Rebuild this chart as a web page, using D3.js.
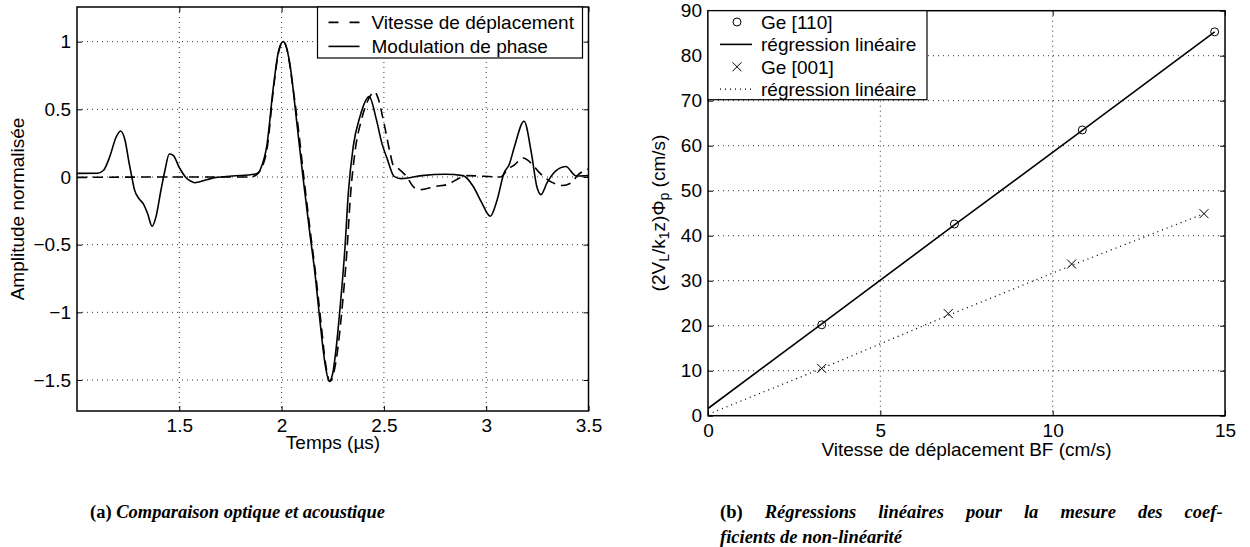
<!DOCTYPE html>
<html>
<head>
  <meta charset="utf-8">
  <title>Comparaison optique et acoustique</title>
  <style>
    body { margin: 0; background: #fff; }
    svg text { font-family: "Liberation Sans", Arial, sans-serif; fill: #000; }
    .caption { font-family: "Liberation Serif", "Times New Roman", serif; font-weight: bold; }
  </style>
</head>
<body>
  <svg id="chart" width="1250" height="547"></svg>

  <script src="https://cdnjs.cloudflare.com/ajax/libs/d3/7.8.5/d3.min.js"></script>
  <script>
    // ---- data, panel (a) ----
    const timeTicks = [1.5, 2, 2.5, 3, 3.5];
    const ampTicks = [-1.5, -1, -0.5, 0, 0.5, 1];

    // Vitesse de déplacement (dashed)  [temps µs, amplitude]
    const vitesse = [
      [1.0, -0.003], [1.5, 0.0], [1.85, 0.0], [1.88, 0.02], [1.9, 0.06], [1.93, 0.22],
      [1.96, 0.65], [1.985, 0.92], [2.008, 1.0], [2.03, 0.92], [2.05, 0.72], [2.08, 0.38],
      [2.11, -0.02], [2.14, -0.4], [2.165, -0.7], [2.19, -1.04], [2.215, -1.38], [2.236, -1.51],
      [2.256, -1.44], [2.272, -1.3], [2.295, -0.98], [2.32, -0.53], [2.336, -0.15], [2.36, 0.2],
      [2.39, 0.42], [2.42, 0.56], [2.455, 0.63], [2.472, 0.58], [2.5, 0.4], [2.53, 0.18],
      [2.545, 0.09], [2.567, 0.066], [2.61, 0.005], [2.65, -0.08], [2.685, -0.093], [2.75, -0.07],
      [2.81, -0.056], [2.87, -0.007], [2.91, 0.01], [3.07, 0.0], [3.104, 0.054], [3.138, 0.09],
      [3.18, 0.14], [3.221, 0.1], [3.255, 0.04], [3.289, -0.007], [3.322, -0.04], [3.372, -0.063],
      [3.414, -0.044], [3.45, 0.017], [3.5, 0.06]
    ];

    // Modulation de phase (solid)
    const modulation = [
      [1.0, 0.027], [1.1, 0.028], [1.13, 0.05], [1.16, 0.15], [1.19, 0.29], [1.213, 0.34],
      [1.235, 0.27], [1.255, 0.1], [1.268, 0.0], [1.28, -0.09], [1.303, -0.16], [1.325, -0.2],
      [1.345, -0.27], [1.367, -0.364], [1.385, -0.3], [1.41, -0.1], [1.43, 0.05], [1.451, 0.17],
      [1.47, 0.16], [1.5, 0.07], [1.53, 0.0], [1.555, -0.03], [1.576, -0.042], [1.6, -0.035],
      [1.657, -0.01], [1.758, 0.007], [1.867, 0.02], [1.885, 0.03], [1.9, 0.07], [1.927, 0.224],
      [1.96, 0.667], [1.985, 0.93], [2.008, 1.0], [2.04, 0.84], [2.073, 0.42], [2.106, -0.02],
      [2.138, -0.416], [2.163, -0.71], [2.187, -1.057], [2.212, -1.377], [2.233, -1.51], [2.25, -1.45],
      [2.26, -1.35], [2.285, -0.98], [2.31, -0.515], [2.326, -0.12], [2.35, 0.224], [2.383, 0.446],
      [2.428, 0.594], [2.464, 0.42], [2.49, 0.25], [2.517, 0.13], [2.55, 0.005], [2.584, -0.012],
      [2.685, 0.01], [2.8, 0.02], [2.886, 0.01], [2.936, -0.068], [2.978, -0.19], [3.02, -0.29],
      [3.054, -0.166], [3.087, 0.03], [3.112, 0.09], [3.138, 0.224], [3.185, 0.412], [3.221, 0.176],
      [3.247, -0.068], [3.268, -0.13], [3.297, -0.044], [3.33, 0.03], [3.389, 0.078], [3.44, 0.007],
      [3.5, 0.01]
    ];

    // ---- data, panel (b) ----
    const speedTicks = [0, 5, 10, 15];
    const phaseTicks = [0, 10, 20, 30, 40, 50, 60, 70, 80, 90];
    const ge110 = [[3.3, 20.2], [7.15, 42.6], [10.86, 63.5], [14.7, 85.3]];
    const fit110 = [[0, 1.6], [3.3, 20.4], [7.15, 42.4], [10.86, 63.4], [14.7, 85.3]];
    const ge001 = [[3.3, 10.5], [6.97, 22.7], [10.55, 33.7], [14.39, 44.9]];
    const fit001 = [[0, 0.3], [3.3, 10.5], [6.97, 22.3], [10.55, 33.4], [14.39, 44.9]];

    const svg = d3.select("#chart");
    const FONT = 19;

    /** axes box, inward ticks on all four sides, dotted grid */
    function frame(g, x, y, xTicks, yTicks, xGrid, yGrid, fmtY) {
      const [x0, x1] = x.range();
      const [y0, y1] = y.range(); // y0 = bottom

      // grid
      g.append("g").selectAll("line").data(xGrid).join("line")
        .attr("x1", d => x(d)).attr("x2", d => x(d))
        .attr("y1", y1).attr("y2", y0)
        .attr("stroke", "#333").attr("stroke-dasharray", "1,4");
      g.append("g").selectAll("line").data(yGrid).join("line")
        .attr("y1", d => y(d)).attr("y2", d => y(d))
        .attr("x1", x0).attr("x2", x1)
        .attr("stroke", "#333").attr("stroke-dasharray", "1,4");

      // axes
      const bottom = g.append("g").attr("transform", `translate(0,${y0})`)
        .call(d3.axisBottom(x).tickValues(xTicks).tickSizeInner(-5).tickSizeOuter(0).tickPadding(8)
          .tickFormat(d => d));
      const left = g.append("g").attr("transform", `translate(${x0},0)`)
        .call(d3.axisLeft(y).tickValues(yTicks).tickSizeInner(-5).tickSizeOuter(0).tickPadding(6)
          .tickFormat(fmtY));
      const top = g.append("g").attr("transform", `translate(0,${y1})`)
        .call(d3.axisTop(x).tickValues(xTicks).tickSizeInner(-5).tickSizeOuter(0).tickFormat(""));
      const right = g.append("g").attr("transform", `translate(${x1},0)`)
        .call(d3.axisRight(y).tickValues(yTicks).tickSizeInner(-5).tickSizeOuter(0).tickFormat(""));

      [bottom, left, top, right].forEach(a => {
        a.select(".domain").remove();
        a.selectAll("line").attr("stroke", "#000");
        a.selectAll("text").attr("font-size", FONT).attr("font-family", "Liberation Sans, Arial, sans-serif");
      });

      g.append("rect")
        .attr("x", x0).attr("y", y1)
        .attr("width", x1 - x0).attr("height", y0 - y1)
        .attr("fill", "none").attr("stroke", "#000").attr("stroke-width", 1.5);
    }

    const minusFmt = d => (d < 0 ? "\u2212" : "") + Math.abs(d);

    // ================= panel (a) =================
    const gA = svg.append("g");
    const xA = d3.scaleLinear().domain([1, 3.5]).range([77, 588.5]);
    const yA = d3.scaleLinear().domain([-1.729, 1.256]).range([411, 7]);

    frame(gA, xA, yA, timeTicks, ampTicks, [1.5, 2, 2.5, 3], ampTicks, minusFmt);

    const lineA = d3.line().x(d => xA(d[0])).y(d => yA(d[1])).curve(d3.curveMonotoneX);

    gA.append("path").datum(vitesse)
      .attr("d", lineA).attr("fill", "none")
      .attr("stroke", "#000").attr("stroke-width", 1.6).attr("stroke-dasharray", "10,6");
    gA.append("path").datum(modulation)
      .attr("d", lineA).attr("fill", "none")
      .attr("stroke", "#000").attr("stroke-width", 1.6);

    // legend (a)
    const legA = gA.append("g");
    legA.append("rect").attr("x", 317.5).attr("y", 7).attr("width", 265).attr("height", 51)
      .attr("fill", "#fff").attr("stroke", "#000").attr("stroke-width", 1.2);
    const legAItems = [
      { label: "Vitesse de déplacement", dash: "10,11" },
      { label: "Modulation de phase", dash: null }
    ];
    legAItems.forEach((it, i) => {
      const cy = 22.4 + i * 24;
      legA.append("line").attr("x1", 328.5).attr("x2", 359.5).attr("y1", cy).attr("y2", cy)
        .attr("stroke", "#000").attr("stroke-width", 1.6).attr("stroke-dasharray", it.dash);
      legA.append("text").attr("x", 371.5).attr("y", cy).attr("dy", "0.36em")
        .attr("font-size", FONT).text(it.label);
    });

    gA.append("text").attr("x", 333).attr("y", 449).attr("text-anchor", "middle")
      .attr("font-size", FONT).text("Temps (µs)");
    gA.append("text").attr("transform", "translate(24,209) rotate(-90)")
      .attr("text-anchor", "middle").attr("font-size", FONT).text("Amplitude normalisée");

    // ================= panel (b) =================
    const gB = svg.append("g");
    const xB = d3.scaleLinear().domain([0, 15]).range([708, 1225]);
    const yB = d3.scaleLinear().domain([0, 90]).range([415.7, 10.7]);

    frame(gB, xB, yB, speedTicks, phaseTicks, [5, 10], [10, 20, 30, 40, 50, 60, 70, 80], d => d);

    const lineB = d3.line().x(d => xB(d[0])).y(d => yB(d[1]));

    gB.append("path").datum(fit110).attr("d", lineB).attr("fill", "none")
      .attr("stroke", "#000").attr("stroke-width", 1.6);
    gB.append("path").datum(fit001).attr("d", lineB).attr("fill", "none")
      .attr("stroke", "#000").attr("stroke-width", 1.3).attr("stroke-dasharray", "1,4");

    gB.append("g").selectAll("circle").data(ge110).join("circle")
      .attr("cx", d => xB(d[0])).attr("cy", d => yB(d[1])).attr("r", 4)
      .attr("fill", "none").attr("stroke", "#000").attr("stroke-width", 1);

    const cross = (g, cx, cy, s) => g.append("path")
      .attr("d", `M${cx - s},${cy - s}L${cx + s},${cy + s}M${cx - s},${cy + s}L${cx + s},${cy - s}`)
      .attr("stroke", "#000").attr("stroke-width", 1).attr("fill", "none");

    const crosses = gB.append("g");
    ge001.forEach(d => cross(crosses, xB(d[0]), yB(d[1]), 4.5));

    // legend (b)
    const legB = gB.append("g");
    legB.append("rect").attr("x", 708).attr("y", 10.7).attr("width", 219).attr("height", 89)
      .attr("fill", "#fff").attr("stroke", "#000").attr("stroke-width", 1.2);
    const legBItems = ["Ge [110]", "régression linéaire", "Ge [001]", "régression linéaire"];
    legBItems.forEach((label, i) => {
      const cy = 22 + i * 22.4;
      if (i === 0) {
        legB.append("circle").attr("cx", 737).attr("cy", cy).attr("r", 4)
          .attr("fill", "none").attr("stroke", "#000");
      } else if (i === 2) {
        cross(legB, 737, cy, 4.5);
      } else {
        legB.append("line").attr("x1", 720).attr("x2", 752).attr("y1", cy).attr("y2", cy)
          .attr("stroke", "#000").attr("stroke-width", i === 1 ? 1.6 : 1.3)
          .attr("stroke-dasharray", i === 3 ? "1,4" : null);
      }
      legB.append("text").attr("x", 761).attr("y", cy).attr("dy", "0.36em")
        .attr("font-size", FONT).text(label);
    });

    gB.append("text").attr("x", 966.5).attr("y", 456).attr("text-anchor", "middle")
      .attr("font-size", FONT).text("Vitesse de déplacement BF (cm/s)");

    const yl = gB.append("text").attr("transform", "translate(665,213) rotate(-90)")
      .attr("text-anchor", "middle").attr("font-size", FONT);
    yl.append("tspan").text("(2V");
    yl.append("tspan").attr("baseline-shift", "-30%").attr("font-size", 14).text("L");
    yl.append("tspan").text("/k");
    yl.append("tspan").attr("baseline-shift", "-30%").attr("font-size", 14).text("1");
    yl.append("tspan").text("z)Φ");
    yl.append("tspan").attr("baseline-shift", "-30%").attr("font-size", 14).text("p");
    yl.append("tspan").text(" (cm/s)");

    // ================= captions =================
    const CAP = 18.5;
    const capA = svg.append("text").attr("class", "caption").attr("x", 90).attr("y", 518).attr("font-size", CAP);
    capA.append("tspan").text("(a) ");
    capA.append("tspan").attr("font-style", "italic").text("Comparaison optique et acoustique");

    // first line of (b) is justified to the column width, like the LaTeX source
    const capB = svg.append("text").attr("class", "caption").attr("x", 720).attr("y", 518).attr("font-size", CAP);
    capB.append("tspan").text("(b) ");
    capB.append("tspan").attr("font-style", "italic").text("Régressions linéaires pour la mesure des coef-");
    const natural = capB.node().getComputedTextLength();
    const gaps = 8;
    capB.attr("word-spacing", Math.max(0, (1240 - 720 - natural) / gaps));

    svg.append("text").attr("class", "caption").attr("x", 720).attr("y", 543).attr("font-size", CAP)
      .attr("font-style", "italic").text("ficients de non-linéarité");
  </script>
</body>
</html>
